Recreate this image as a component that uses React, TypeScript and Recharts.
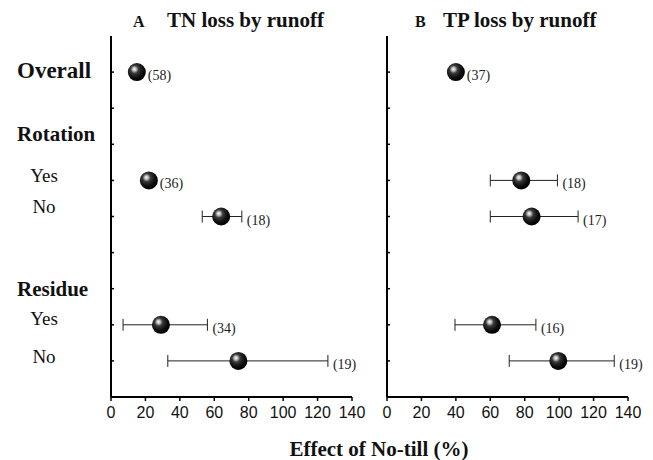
import React from 'react';
import { ScatterChart, Scatter, XAxis, YAxis, ErrorBar } from 'recharts';

// row positions on the numeric y scale (top = 10)
const groups = ['Overall', 'Rotation: Yes', 'Rotation: No', 'Residue: Yes', 'Residue: No'];
const rowPos = [9, 6, 5, 2, 1];

// A: TN loss by runoff
const tnMean = [15, 22, 64, 29, 74];
const tnLow = [null, null, 53, 7, 33];
const tnHigh = [null, null, 76, 56, 126];
const tnN = [58, 36, 18, 34, 19];

// B: TP loss by runoff
const tpMean = [40, 78, 84, 61, 99.5];
const tpLow = [null, 60, 60, 39.5, 71];
const tpHigh = [null, 99, 111, 86.5, 132];
const tpN = [37, 18, 17, 16, 19];

const xTicks = [0, 20, 40, 60, 80, 100, 120, 140];
const rowTicks = [1, 2, 3, 4, 5, 6, 7, 8, 9];
const rowLabels: Record<number, string> = { 9: 'Overall', 7: 'Rotation', 6: 'Yes', 5: 'No', 3: 'Residue', 2: 'Yes', 1: 'No' };
const headings = [9, 7, 3];

const serif = '"Liberation Serif", "Times New Roman", serif';
const sans = '"Liberation Sans", Arial, sans-serif';
// small baseline nudges / sizes for the row labels
const labelDy: Record<number, number> = { 9: 6, 7: -3, 6: 2, 5: -4, 3: 7, 2: 0, 1: 2 };
const labelSize: Record<number, number> = { 9: 23, 7: 21, 6: 19, 5: 19, 3: 21, 2: 19, 1: 19 };

const build = (mean: number[], low: (number | null)[], high: (number | null)[], n: number[]) =>
  mean.map((m, i) => ({
    group: groups[i],
    x: m,
    y: rowPos[i],
    err: [low[i] == null ? 0 : m - (low[i] as number), high[i] == null ? 0 : (high[i] as number) - m],
    hasBar: high[i] != null,
    labelX: high[i] == null ? m : (high[i] as number),
    n: n[i],
  }));

const tnData = build(tnMean, tnLow, tnHigh, tnN);
const tpData = build(tpMean, tpLow, tpHigh, tpN);

const Sphere = (id: string) => (props: any) => {
  const { cx, cy } = props;
  if (cx == null || cy == null) return null;
  return <circle cx={cx} cy={cy} r={9} fill={`url(#${id})`} />;
};

const CountLabel = (props: any) => {
  const { cx, cy, payload } = props;
  if (cx == null || cy == null) return null;
  return (
    <text
      x={cx + (payload.hasBar ? 5 : 11)}
      y={cy + 8}
      fontFamily={serif}
      fontSize={14}
      style={{ fill: '#222' }}
    >
      ({payload.n})
    </text>
  );
};

const LeftTick = (props: any) => {
  const { x, y, payload } = props;
  const label = rowLabels[payload.value];
  const isHead = headings.includes(payload.value);
  return (
    <g>
      <line x1={x} y1={y} x2={x + 3} y2={y} stroke="#000" strokeWidth={1.5} />
      {label && (
        <text
          x={isHead ? x - 94 : x - 67}
          y={y + labelDy[payload.value]}
          textAnchor={isHead ? 'start' : 'middle'}
          fontFamily={serif}
          fontWeight={isHead ? 'bold' : 'normal'}
          fontSize={labelSize[payload.value]}
          fill="#111"
        >
          {label}
        </text>
      )}
    </g>
  );
};

const RightTick = (props: any) => {
  const { x, y } = props;
  return <line x1={x} y1={y} x2={x + 3} y2={y} stroke="#000" strokeWidth={1.5} />;
};

const SphereDefs = ({ id }: { id: string }) => (
  <defs>
    <radialGradient id={id} cx="40%" cy="38%" r="62%" fx="36%" fy="33%">
      <stop offset="0%" stopColor="#f8f8f8" />
      <stop offset="16%" stopColor="#c0c0c0" />
      <stop offset="36%" stopColor="#3a3a3a" />
      <stop offset="70%" stopColor="#101010" />
      <stop offset="100%" stopColor="#000" />
    </radialGradient>
  </defs>
);

const Panel = ({ data, id, left }: { data: any[]; id: string; left: boolean }) => (
  <ScatterChart
    width={left ? 370 : 283}
    height={460}
    margin={{ top: 36, right: left ? 18 : 25, left: left ? 11 : 0, bottom: 33 }}
  >
    <SphereDefs id={id} />
    <XAxis
      type="number"
      dataKey="x"
      domain={[0, 140]}
      ticks={xTicks}
      interval={0}
      height={30}
      axisLine={{ stroke: '#000', strokeWidth: 2 }}
      tickLine={{ stroke: '#000', strokeWidth: 1.5 }}
      tickSize={4}
      tickMargin={6}
      tick={{ fill: '#111', fontFamily: sans, fontSize: 16 }}
    />
    <YAxis
      type="number"
      dataKey="y"
      domain={[0, 10]}
      ticks={rowTicks}
      interval={0}
      width={left ? 100 : 17}
      axisLine={{ stroke: '#000', strokeWidth: 2 }}
      tickLine={false}
      tickSize={0}
      tickMargin={0}
      tick={left ? <LeftTick /> : <RightTick />}
    />
    <Scatter data={data} shape={Sphere(id)} isAnimationActive={false}>
      <ErrorBar dataKey="err" direction="x" width={6} stroke="#222" strokeWidth={1} />
    </Scatter>
    <Scatter data={data.map((d) => ({ ...d, x: d.labelX }))} shape={<CountLabel />} isAnimationActive={false} />
  </ScatterChart>
);

export default function App() {
  return (
    <div style={{ position: 'absolute', left: 0, top: 0, width: 653, height: 460, background: '#fff' }}>
      <div style={{ position: 'absolute', left: 0, top: 0 }}>
        <Panel data={tnData} id="sphereA" left />
      </div>
      <div style={{ position: 'absolute', left: 370, top: 0 }}>
        <Panel data={tpData} id="sphereB" left={false} />
      </div>
      <svg width={653} height={460} style={{ position: 'absolute', left: 0, top: 0, pointerEvents: 'none' }}>
        <g fontFamily={serif} fontWeight="bold" fill="#111">
          <text x={133} y={27} fontSize={16}>A</text>
          <text x={167} y={27} fontSize={21}>TN loss by runoff</text>
          <text x={415} y={27} fontSize={16}>B</text>
          <text x={443} y={27} fontSize={21}>TP loss by runoff</text>
          <text x={379} y={456} fontSize={21} textAnchor="middle">Effect of No-till (%)</text>
        </g>
      </svg>
    </div>
  );
}
